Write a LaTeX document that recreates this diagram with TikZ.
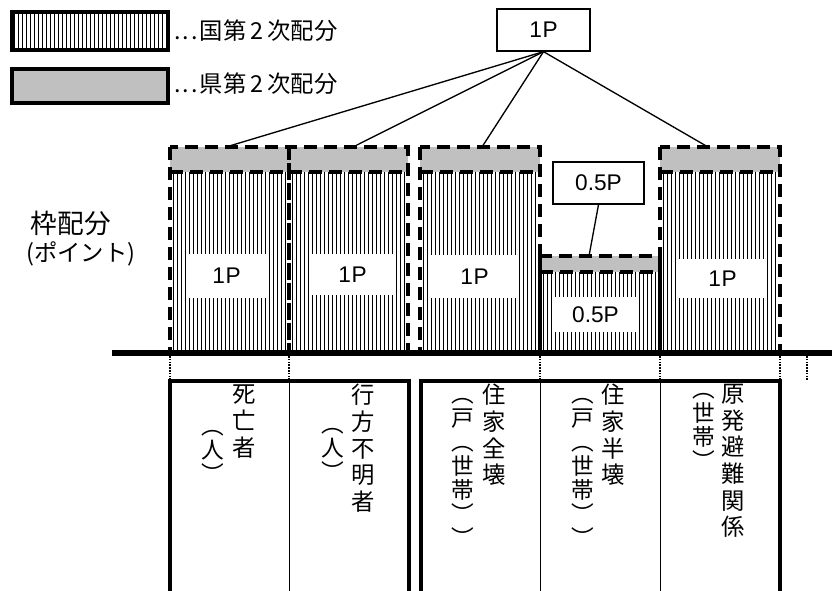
\documentclass[tikz,border=0pt]{standalone}
\usepackage{fontspec}
\setmainfont{Liberation Sans}
\newfontfamily\jp{Noto Sans CJK JP}
\definecolor{barGray}{RGB}{192,192,192}
\begin{document}
\begin{tikzpicture}[x=0.75pt,y=-0.75pt,
  hatchln/.style={line width=0.65pt},
  dashbox/.style={line width=3.4pt, dash pattern=on 9.75pt off 5.25pt},
  pbox/.style={draw, line width=1pt, fill=white, inner sep=0, font=\fontsize{17pt}{19pt}\selectfont},
  plabel/.style={fill=white, inner sep=0, font=\fontsize{17pt}{19pt}\selectfont},
  lconn/.style={line width=1pt},
  tbl/.style={line width=2.5pt},
  thinln/.style={line width=0.75pt},
  dotln/.style={line width=2pt, dash pattern=on 1.2pt off 0.9pt},
  vtext/.style={font=\jp\fontsize{17.5pt}{20pt}\selectfont, align=center, anchor=north, inner sep=0},
  vparen/.style={font=\jp\fontsize{17pt}{18pt}\selectfont, align=center, anchor=north, inner sep=0},
  legtext/.style={font=\jp\fontsize{17.5pt}{19pt}\selectfont, anchor=west, inner sep=0},
]
\useasboundingbox (0,0) rectangle (832,591);

% legend
\begin{scope}
\clip (12,12) rectangle (168,50);
\foreach \xx in {14,18,...,166} \draw[hatchln] (\xx,12) -- (\xx,50);
\end{scope}
\draw[line width=3pt] (12,12) rectangle (168,50);
\draw[line width=3pt, fill=barGray] (12,69) rectangle (168,103);
\node[legtext] (lg1) at (174,31) {.\kern1.5pt.\kern1.5pt.\kern1.5pt国第\kern3pt 2\kern3pt 次配分};
\node[legtext] (lg2) at (174,84) {.\kern1.5pt.\kern1.5pt.\kern1.5pt県第\kern3pt 2\kern3pt 次配分};

% gray bars
\fill[barGray] (170,147) rectangle (289,172);
\fill[barGray] (289,147) rectangle (408,172);
\fill[barGray] (420,147) rectangle (540,172);
\fill[barGray] (540,256) rectangle (660,272);
\fill[barGray] (660,147) rectangle (780,172);

% hatching
\foreach \xx in {173,177,...,287} \draw[hatchln] (\xx,172) -- (\xx,352);
\foreach \xx in {292,296,...,406} \draw[hatchln] (\xx,172) -- (\xx,352);
\foreach \xx in {423,427,...,538} \draw[hatchln] (\xx,172) -- (\xx,352);
\foreach \xx in {543,547,...,658} \draw[hatchln] (\xx,272) -- (\xx,352);
\foreach \xx in {663,667,...,778} \draw[hatchln] (\xx,172) -- (\xx,352);

% white labels
\node[plabel, minimum width=60.75pt, minimum height=33pt] (c1) at (226.5,276) {1\kern0.5pt P};
\node[plabel, minimum width=60.75pt, minimum height=30.75pt] (c2) at (352.5,274.5) {1\kern0.5pt P};
\node[plabel, minimum width=65.25pt, minimum height=32.25pt] (c3) at (474.5,276.5) {1\kern0.5pt P};
\node[plabel, minimum width=62.25pt, minimum height=26.25pt] (c4) at (595.5,314.5) {0.5P};
\node[plabel, minimum width=65.25pt, minimum height=29.25pt] (c5) at (722.5,278.5) {1\kern0.5pt P};

% dashed outlines
\draw[dashbox] (170,147) rectangle (289,352);
\draw[dashbox] (170,172) -- (289,172);
\draw[dashbox] (289,147) rectangle (408,352);
\draw[dashbox] (289,172) -- (408,172);
\draw[dashbox] (420,147) rectangle (540,352);
\draw[dashbox] (420,172) -- (540,172);
\draw[dashbox] (540,256) rectangle (660,352);
\draw[dashbox] (540,272) -- (660,272);
\draw[dashbox] (660,147) rectangle (780,352);
\draw[dashbox] (660,172) -- (780,172);

% baseline
\draw[line width=4.5pt] (112,353) -- (832,353);

% top box and connectors
\node[pbox, minimum width=69.75pt, minimum height=31.5pt] (top) at (543.5,30) {1\kern0.5pt P};
\coordinate (t1) at (226,147);
\coordinate (t2) at (353,147);
\coordinate (t3) at (482,147);
\coordinate (t5) at (708,147);
\draw[lconn] (top.south) -- (t1);
\draw[lconn] (top.south) -- (t2);
\draw[lconn] (top.south) -- (t3);
\draw[lconn] (top.south) -- (t5);

\node[pbox, minimum width=68.25pt, minimum height=31.5pt] (half) at (598.5,183) {0.5P};
\coordinate (t4) at (589,256);
\draw[lconn] (half.south) -- (t4);

% left label
\node[font=\jp\fontsize{20pt}{22pt}\selectfont, inner sep=0] (wak) at (71,223) {枠配分};
\node[font=\jp\fontsize{17.5pt}{19pt}\selectfont, inner sep=0] (pnt) at (81,254) {(ポイント)};

% dotted ticks
\foreach \xx in {170,289,540,660,780,807} \draw[dotln] (\xx,356) -- (\xx,381);

% table
\draw[tbl] (170,595) -- (170,381) -- (409,381) -- (409,595);
\draw[thinln] (289,381) -- (289,595);
\draw[tbl] (421,595) -- (421,381) -- (780,381) -- (780,595);
\draw[thinln] (540,381) -- (540,595);
\draw[thinln] (660,381) -- (660,595);

% vertical texts
\node[vtext] (d1) at (244,385) {死\\亡\\者};
\node[vparen] (d1p) at (213,416) {\vphantom{国}︵\\人\\︶};
\node[vtext] (d2) at (363,384) {行\\方\\不\\明\\者};
\node[vparen] (d2p) at (333,414) {\vphantom{国}︵\\人\\︶};
\node[vtext] (d3) at (494,384) {住\\家\\全\\壊};
\node[vparen] (d3p) at (463,384) {\vphantom{国}︵\\戸\\︵\\世\\帯\\︶\\︶};
\node[vtext] (d4) at (613,384) {住\\家\\半\\壊};
\node[vparen] (d4p) at (583,384) {\vphantom{国}︵\\戸\\︵\\世\\帯\\︶\\︶};
\node[vtext] (d5) at (733,384) {原\\発\\避\\難\\関\\係};
\node[vparen] (d5p) at (704,379) {\vphantom{国}︵\\世\\帯\\︶};
\end{tikzpicture}
\end{document}
